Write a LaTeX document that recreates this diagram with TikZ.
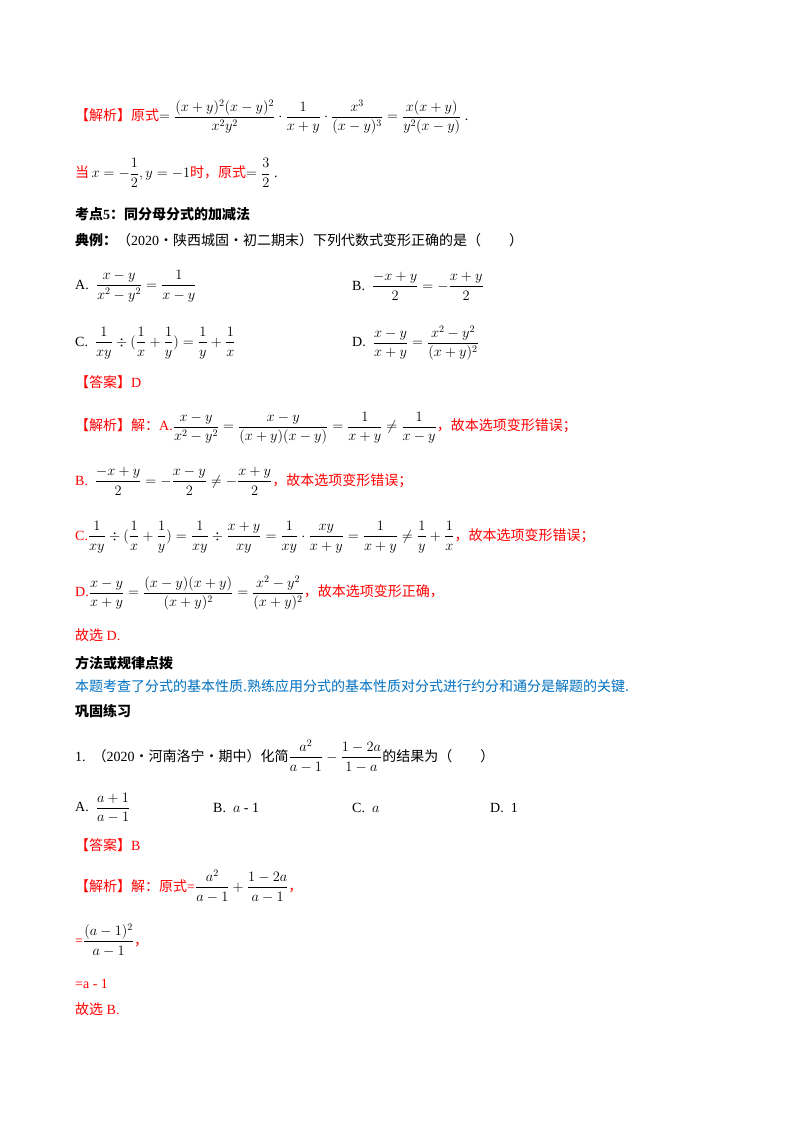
\documentclass[tikz,border=0pt]{standalone}
\usepackage{amsmath}
\usepackage{fontspec}
\setmainfont{Liberation Serif}
\newfontfamily\cjk{Noto Sans CJK SC}
\definecolor{rd}{RGB}{255,0,0}
\definecolor{bl}{RGB}{0,112,192}
\begin{document}
\begin{tikzpicture}[x=1pt,y=-1pt,
  ln/.style={anchor=west,inner sep=0pt,font=\fontsize{14}{16}\selectfont},
  hd/.style={ln,font=\fontsize{14}{16}\selectfont\bfseries}]
\useasboundingbox (0,0) rectangle (800,1132);
\node[ln] (l1) at (75,117) {\textcolor{rd}{\cjk 【解析】原式}$=\dfrac{(x+y)^2(x-y)^2}{x^2y^2}\cdot\dfrac{1}{x+y}\cdot\dfrac{x^3}{(x-y)^3}=\dfrac{x(x+y)}{y^2(x-y)}$ .};
\node[ln] (l2) at (75,173) {\textcolor{rd}{\cjk 当}\,$x=-\dfrac12,y=-1$\textcolor{rd}{\cjk 时，原式}$=\dfrac32$ .};
\node[hd] (l3) at (75,214) {{\cjk\bfseries 考点}5{\cjk\bfseries ：同分母分式的加减法}};
\node[ln] (l4) at (75,240) {{\cjk\bfseries 典例：}{\cjk （}2020{\cjk ·陕西城固·初二期末）下列代数式变形正确的是（　　）}};
\node[ln] (a1) at (75,286) {A.\ \ $\dfrac{x-y}{x^2-y^2}=\dfrac{1}{x-y}$};
\node[ln] (b1) at (352,286) {B.\ \ $\dfrac{-x+y}{2}=-\dfrac{x+y}{2}$};
\node[ln] (c1) at (75,343) {C.\ \ $\dfrac{1}{xy}\div(\dfrac1x+\dfrac1y)=\dfrac1y+\dfrac1x$};
\node[ln] (d1) at (352,343) {D.\ \ $\dfrac{x-y}{x+y}=\dfrac{x^2-y^2}{(x+y)^2}$};
\node[ln] (an) at (75,382) {\textcolor{rd}{\cjk 【答案】}\textcolor{rd}{D}};
\node[ln] (s1) at (75,428) {\textcolor{rd}{\cjk 【解析】解：}\textcolor{rd}{A.}$\dfrac{x-y}{x^2-y^2}=\dfrac{x-y}{(x+y)(x-y)}=\dfrac{1}{x+y}\neq\dfrac{1}{x-y}$\textcolor{rd}{\cjk ，故本选项变形错误；}};
\node[ln] (s2) at (75,481) {\textcolor{rd}{B.}\ \ $\dfrac{-x+y}{2}=-\dfrac{x-y}{2}\neq-\dfrac{x+y}{2}$\textcolor{rd}{\cjk ，故本选项变形错误；}};
\node[ln] (s3) at (75,537) {\textcolor{rd}{C.}$\dfrac{1}{xy}\div(\dfrac1x+\dfrac1y)=\dfrac{1}{xy}\div\dfrac{x+y}{xy}=\dfrac{1}{xy}\cdot\dfrac{xy}{x+y}=\dfrac{1}{x+y}\neq\dfrac1y+\dfrac1x$\textcolor{rd}{\cjk ，故本选项变形错误；}};
\node[ln] (s4) at (75,593) {\textcolor{rd}{D.}$\dfrac{x-y}{x+y}=\dfrac{(x-y)(x+y)}{(x+y)^2}=\dfrac{x^2-y^2}{(x+y)^2}$\textcolor{rd}{\cjk ，故本选项变形正确，}};
\node[ln] (s5) at (75,635) {\textcolor{rd}{{\cjk 故选} D.}};
\node[hd] (m1) at (75,663) {\cjk\bfseries 方法或规律点拨};
\node[ln] (m2) at (75,686) {\textcolor{bl}{\cjk 本题考查了分式的基本性质.熟练应用分式的基本性质对分式进行约分和通分是解题的关键.}};
\node[hd] (g1) at (75,711) {\cjk\bfseries 巩固练习};
\node[ln] (q1) at (75,756) {1.\ \ {\cjk （}2020{\cjk ·河南洛宁·期中）化简}$\dfrac{a^2}{a-1}-\dfrac{1-2a}{1-a}${\cjk 的结果为（　　）}};
\node[ln] (qa) at (75,808) {A.\ \ $\dfrac{a+1}{a-1}$};
\node[ln] (qb) at (213,808) {B.\ \ $a$ - 1};
\node[ln] (qc) at (352,808) {C.\ \ $a$};
\node[ln] (qd) at (490,808) {D.\ \ 1};
\node[ln] (an2) at (75,845) {\textcolor{rd}{\cjk 【答案】}\textcolor{rd}{B}};
\node[ln] (t1) at (75,886) {\textcolor{rd}{\cjk 【解析】解：原式}\textcolor{rd}{=}$\dfrac{a^2}{a-1}+\dfrac{1-2a}{a-1}$\textcolor{rd}{\cjk ，}};
\node[ln] (t2) at (75,940) {\textcolor{rd}{=}$\dfrac{(a-1)^2}{a-1}$\textcolor{rd}{\cjk ，}};
\node[ln] (t3) at (75,984) {\textcolor{rd}{=a - 1}};
\node[ln] (t4) at (75,1009) {\textcolor{rd}{{\cjk 故选} B.}};
\end{tikzpicture}
\end{document}
